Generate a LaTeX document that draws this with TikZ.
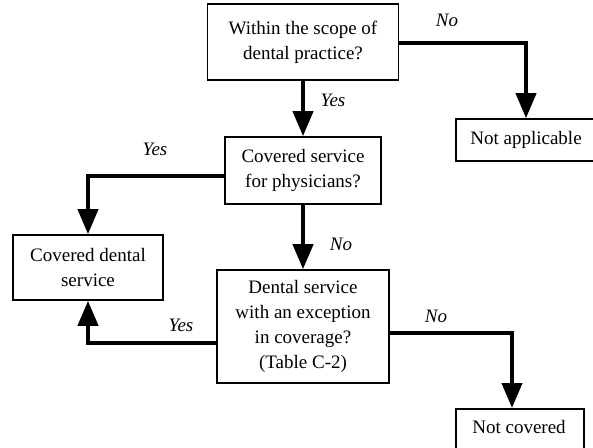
\documentclass[tikz,border=0pt]{standalone}
\usepackage{fontspec}
\setmainfont{Liberation Serif}
\usetikzlibrary{arrows.meta}
\begin{document}
\begin{tikzpicture}[x=1pt,y=-1pt,
  box/.style={draw, line width=1.6pt, align=center, inner sep=0pt,
    font=\fontsize{19}{25}\selectfont},
  flow/.style={line width=4pt, -{Triangle[length=25pt,width=20pt]}},
  lbl/.style={font=\fontsize{19}{22}\itshape\selectfont}]
\useasboundingbox (0,0) rectangle (593,447);
\clip (0,0) rectangle (593,447);
\fill[white] (0,0) rectangle (593,447);

% decision and outcome boxes
\node[box, minimum width=191pt, minimum height=76pt] (scope) at (303,42)
  {Within the scope of\\dental practice?};
\node[box, minimum width=156pt, minimum height=67pt] (phys) at (303,170.5)
  {Covered service\\for physicians?};
\node[box, minimum width=172pt, minimum height=113pt] (exc) at (303,326.5)
  {Dental service\\with an exception\\in coverage?\\(Table C-2)};
\node[box, minimum width=150pt, minimum height=65pt] (dental) at (88,267.5)
  {Covered dental\\service};
\node[box, minimum width=140pt, minimum height=42pt] (napp) at (526,140)
  {Not applicable};
\node[box, minimum width=128pt, minimum height=56pt, anchor=north] (ncov) at (520,408) {};
\node[font=\fontsize{19}{25}\selectfont] (ncovtxt) at (519,427) {Not covered};

% connectors
\draw[flow] (scope.south) -- (phys.north);
\draw[flow] (phys.south) -- (exc.north);
\draw[flow] ([yshift=-1pt]scope.east) -| (napp.north);
\draw[flow] ([yshift=-5.5pt]phys.west) -| (dental.north);
\draw[flow] ([yshift=-16.5pt]exc.west) -| (dental.south);
\coordinate (ncovtop) at ([xshift=-8pt]ncov.north);
\draw[flow] ([yshift=-6.5pt]exc.east) -| (ncovtop);

% branch labels
\node[lbl] (l1) at (447,20) {No};
\node[lbl] (l2) at (333,100) {Yes};
\node[lbl] (l3) at (155,149) {Yes};
\node[lbl] (l4) at (341,244) {No};
\node[lbl] (l5) at (436,316) {No};
\node[lbl] (l6) at (181,325) {Yes};
\end{tikzpicture}
\end{document}
